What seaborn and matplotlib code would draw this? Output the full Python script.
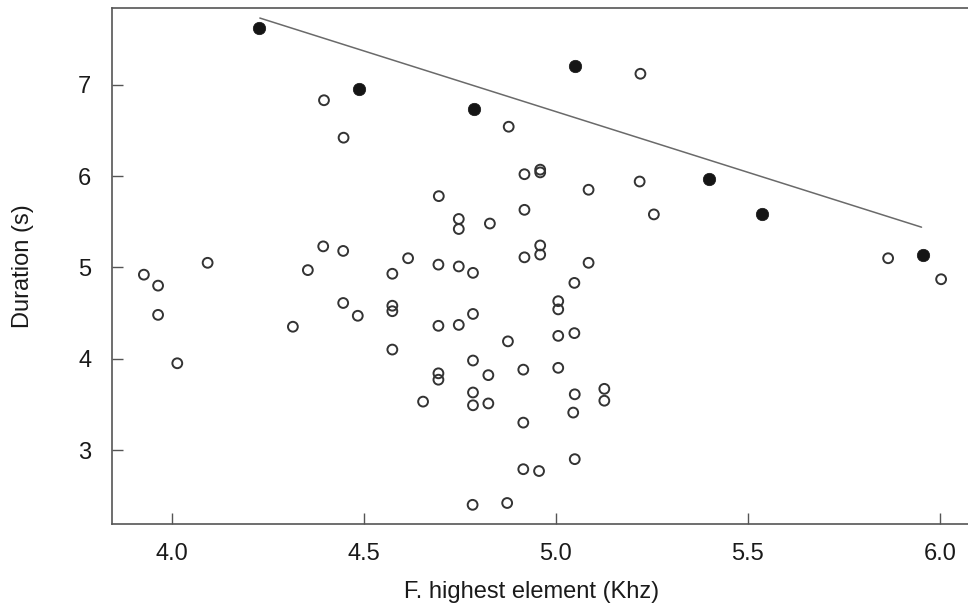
import matplotlib
matplotlib.use("Agg")
import matplotlib.pyplot as plt
import seaborn as sns
import pandas as pd

# Songs with the highest element frequency (kHz) vs. song duration (s)
open_freq = [4.396, 4.447, 5.220, 4.877, 4.918, 4.959, 4.959, 5.085, 5.218, 4.695,
             5.255, 4.747, 4.747, 4.828, 4.918, 5.865, 6.003, 3.927, 3.964, 3.964,
             4.093, 4.014, 4.394, 4.446, 4.354, 4.446, 4.484, 4.315, 4.574, 4.574,
             4.574, 4.574, 4.615, 4.694, 4.747, 4.784, 4.918, 4.959, 4.959, 5.085,
             5.048, 4.694, 4.747, 4.784, 5.006, 5.006, 5.006, 5.048, 4.875, 4.784,
             4.694, 4.694, 4.824, 4.915, 5.006, 4.654, 4.784, 4.784, 4.824, 5.049,
             5.126, 5.126, 5.045, 4.915, 5.049, 4.915, 4.956, 4.783, 4.873]
open_dur = [6.83, 6.42, 7.12, 6.54, 6.02, 6.04, 6.07, 5.85, 5.94, 5.78,
            5.58, 5.53, 5.42, 5.48, 5.63, 5.10, 4.87, 4.92, 4.80, 4.48,
            5.05, 3.95, 5.23, 5.18, 4.97, 4.61, 4.47, 4.35, 4.93, 4.58,
            4.52, 4.10, 5.10, 5.03, 5.01, 4.94, 5.11, 5.24, 5.14, 5.05,
            4.83, 4.36, 4.37, 4.49, 4.63, 4.54, 4.25, 4.28, 4.19, 3.98,
            3.84, 3.77, 3.82, 3.88, 3.90, 3.53, 3.63, 3.49, 3.51, 3.61,
            3.67, 3.54, 3.41, 3.30, 2.90, 2.79, 2.77, 2.40, 2.42]

# Boundary songs (upper edge of the distribution)
edge_freq = [4.227, 4.486, 4.786, 5.050, 5.398, 5.537, 5.955]
edge_dur = [7.62, 6.95, 6.73, 7.20, 5.97, 5.58, 5.13]

# Upper boundary line
bound_freq = [4.229, 5.952]
bound_dur = [7.73, 5.44]

x_ticks = [4.0, 4.5, 5.0, 5.5, 6.0]
y_ticks = [3, 4, 5, 6, 7]

sns.set_theme(style="white")
plt.rcParams["font.family"] = ["Liberation Sans", "DejaVu Sans"]

fig = plt.figure(figsize=(9.68, 6.10), dpi=100)
ax = fig.add_axes([112 / 968, 1 - 524 / 610, (968 - 112) / 968, (524 - 8) / 610])

df_open = pd.DataFrame({"freq": open_freq, "dur": open_dur})
df_edge = pd.DataFrame({"freq": edge_freq, "dur": edge_dur})
df_line = pd.DataFrame({"freq": bound_freq, "dur": bound_dur})

sns.lineplot(data=df_line, x="freq", y="dur", ax=ax, color="#6a6a6a",
             linewidth=1.1, zorder=1)
sns.scatterplot(data=df_open, x="freq", y="dur", ax=ax, marker="o", s=50,
                facecolors="none", edgecolors="#333333", linewidth=1.4, zorder=2)
sns.scatterplot(data=df_edge, x="freq", y="dur", ax=ax, marker="o", s=80,
                color="#151515", edgecolor="#151515", linewidth=0.5, zorder=3)

ax.set_xlim(3.844, 6.073)
ax.set_ylim(2.19, 7.84)
ax.set_xticks(x_ticks)
ax.set_xticklabels([f"{v:.1f}" for v in x_ticks])
ax.set_yticks(y_ticks)
ax.set_yticklabels([str(v) for v in y_ticks])

ax.tick_params(axis="both", direction="in", length=8, width=1.0, color="#555555",
               labelsize=17, labelcolor="#1a1a1a", bottom=True, left=True,
               top=False, right=False)
ax.tick_params(axis="x", pad=14)
ax.tick_params(axis="y", pad=15)

for side in ["left", "bottom", "top"]:
    ax.spines[side].set_visible(True)
    ax.spines[side].set_color("#555555")
    ax.spines[side].set_linewidth(1.2)
ax.spines["right"].set_visible(False)

ax.set_xlabel("F. highest element (Khz)", fontsize=17, color="#1a1a1a")
ax.set_ylabel("Duration (s)", fontsize=17, color="#1a1a1a")
ax.xaxis.set_label_coords(0.49, -0.132)
ax.yaxis.set_label_coords(-0.104, 0.5)
ax.xaxis.label.set_va("center")
ax.yaxis.label.set_va("center")

fig.savefig("out.png", dpi=100, facecolor="white")
